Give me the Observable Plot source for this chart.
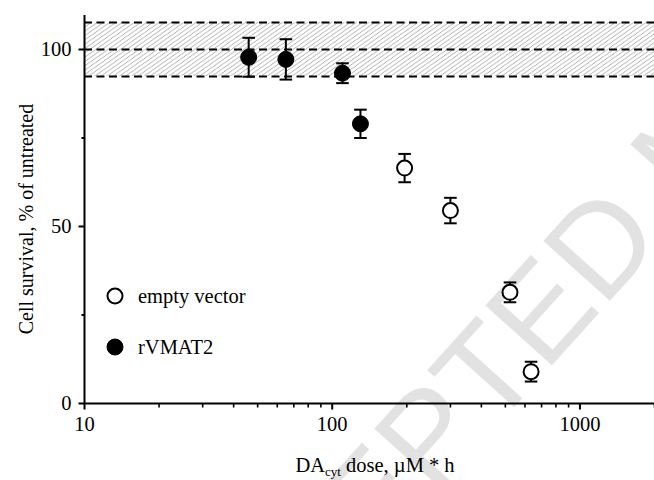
<!DOCTYPE html>
<html>
<head>
<meta charset="utf-8">
<script src="https://cdn.jsdelivr.net/npm/d3@7"></script>
<script src="https://cdn.jsdelivr.net/npm/@observablehq/plot@0.6"></script>
<style>
  html, body { margin: 0; padding: 0; background: white; }
  #chart svg { display: block; }
  #chart svg text { font-family: "Liberation Serif", "Times New Roman", serif; }
  #chart svg text.wm { font-family: "Liberation Sans", Arial, sans-serif; }
</style>
</head>
<body>
<div id="chart"></div>
<script>
// ---- data ----
const groups   = ["rVMAT2", "rVMAT2", "rVMAT2", "rVMAT2", "empty vector", "empty vector", "empty vector", "empty vector"];
const doses    = [46, 65, 110, 130, 196, 300, 522, 635];          // DA_cyt dose, µM*h
const survival = [97.8, 97.2, 93.3, 79.0, 66.5, 54.5, 31.4, 9.0]; // % of untreated
const errors   = [5.5, 5.7, 2.8, 4.0, 4.0, 3.6, 2.8, 2.8];
const controlLevel = [100];
const controlBand  = [92.4, 107.6];
const xMajorTicks = [10, 100, 1000];
const xMinorTicks = [20, 30, 40, 50, 60, 70, 80, 90, 200, 300, 400, 500, 600, 700, 800, 900, 2000];
const yMajorTicks = [0, 50, 100];
const yMinorTicks = [25, 75];
const legendLabels = ["empty vector", "rVMAT2"];
const xTitle = ["DA", "cyt", " dose, µM * h"];
const yTitle = "Cell survival, % of untreated";
const watermark = "ACCEPTED MANUSCRIPT";

const xDomain = [10, 2000];
const data = doses.map((d, i) => ({dose: d, mean: survival[i], err: errors[i], group: groups[i]}));
const band = [{x1: xDomain[0], x2: xDomain[1], lo: controlBand[0], hi: controlBand[1]}];

// custom symbols: horizontal cap, left tick, down tick
const hLine = {draw(c, size) { const w = Math.sqrt(size / Math.PI); c.moveTo(-w, 0); c.lineTo(w, 0); }};
const leftTick = {draw(c, size) { const w = Math.sqrt(size / Math.PI); c.moveTo(-w, 0); c.lineTo(0, 0); }};
const downTick = {draw(c, size) { const w = Math.sqrt(size / Math.PI); c.moveTo(0, 0); c.lineTo(0, w); }};

const chart = Plot.plot({
  width: 654,
  height: 480,
  marginLeft: 84,
  marginRight: 0,
  marginTop: 15,
  marginBottom: 77,
  x: {type: "log", domain: xDomain, axis: null},
  y: {domain: [0, 109.6], axis: null},
  style: {fontFamily: "'Liberation Serif', 'Times New Roman', serif", fontSize: "20px", color: "black", background: "white"},
  marks: [
    Plot.rect(band, {x1: "x1", x2: "x2", y1: "lo", y2: "hi", fill: "#e5e5e5"}),
    Plot.ruleY([...controlBand, ...controlLevel], {stroke: "black", strokeWidth: 2, strokeDasharray: "8,4.5"}),
    // y axis ticks and labels
    Plot.dot(yMajorTicks, {y: d => d, frameAnchor: "left", symbol: leftTick, r: 6, stroke: "black", strokeWidth: 2}),
    Plot.dot(yMinorTicks, {y: d => d, frameAnchor: "left", symbol: leftTick, r: 3, stroke: "black", strokeWidth: 2}),
    Plot.text(yMajorTicks, {y: d => d, frameAnchor: "left", text: d => String(d), dx: -13, textAnchor: "end", fontSize: 20.5}),
    // x axis ticks and labels
    Plot.dot(xMajorTicks, {x: d => d, frameAnchor: "bottom", symbol: downTick, r: 6, stroke: "black", strokeWidth: 2}),
    Plot.dot(xMinorTicks, {x: d => d, frameAnchor: "bottom", symbol: downTick, r: 4, stroke: "black", strokeWidth: 1.6}),
    Plot.text(xMajorTicks, {x: d => d, frameAnchor: "bottom", text: d => String(d), dy: 27, fontSize: 20.5}),
    // axis lines
    Plot.ruleY([0], {stroke: "black", strokeWidth: 2}),
    Plot.ruleX([xDomain[0]], {stroke: "black", strokeWidth: 2}),
    // error bars
    Plot.ruleX(data, {x: "dose", y1: d => d.mean - d.err, y2: d => d.mean + d.err, stroke: "black", strokeWidth: 2}),
    Plot.dot(data, {x: "dose", y: d => d.mean + d.err, symbol: hLine, r: 6.3, stroke: "black", strokeWidth: 2}),
    Plot.dot(data, {x: "dose", y: d => d.mean - d.err, symbol: hLine, r: 6.3, stroke: "black", strokeWidth: 2}),
    // points
    Plot.dot(data, {filter: d => d.group === "empty vector", x: "dose", y: "mean", r: 7.5, fill: "white", stroke: "black", strokeWidth: 2}),
    Plot.dot(data, {filter: d => d.group === "rVMAT2", x: "dose", y: "mean", r: 8, fill: "black", stroke: "black", strokeWidth: 1})
  ]
});

const svg = d3.select(chart);
chart.style.fontFamily = "'Liberation Serif', 'Times New Roman', serif";

// hatch pattern for the control band
const defs = svg.insert("defs", ":first-child");
const pat = defs.append("pattern")
  .attr("id", "hatch").attr("patternUnits", "userSpaceOnUse")
  .attr("width", 5).attr("height", 5)
  .attr("patternTransform", "rotate(10)");
pat.append("rect").attr("width", 5).attr("height", 5).attr("fill", "white");
pat.append("path").attr("d", "M-1,1 L1,-1 M0,5 L5,0 M4,6 L6,4").attr("stroke", "#a6a6a6").attr("stroke-width", 1);
svg.selectAll("rect").filter(function() { return this.getAttribute("fill") === "#e5e5e5" || (this.parentNode && this.parentNode.getAttribute("fill") === "#e5e5e5"); })
  .attr("fill", "url(#hatch)");
svg.selectAll("g").filter(function() { return this.getAttribute("fill") === "#e5e5e5"; }).attr("fill", "url(#hatch)");

// watermark (behind everything)
svg.insert("text", "defs + *")
  .attr("class", "wm")
  .attr("text-anchor", "start")
  .attr("transform", "translate(192,765) rotate(-48)")
  .attr("font-size", 130)
  .attr("fill", "#e2e2e2")
  .text(watermark);

// legend
const leg = svg.append("g").attr("font-size", 20.5).attr("text-anchor", "start");
[[296, "white"], [347, "black"]].forEach(([yy, fill], i) => {
  leg.append("circle").attr("cx", 115).attr("cy", yy).attr("r", fill === "white" ? 7.5 : 8)
    .attr("fill", fill).attr("stroke", "black").attr("stroke-width", fill === "white" ? 2 : 1);
  leg.append("text").attr("x", 138).attr("y", yy + 7).text(legendLabels[i]);
});

// x title with subscript
const xt = svg.append("text").attr("x", 375).attr("y", 472).attr("text-anchor", "middle").attr("font-size", 20.5);
xt.append("tspan").text(xTitle[0]);
xt.append("tspan").attr("font-size", 13).attr("dy", 4).text(xTitle[1]);
xt.append("tspan").attr("dy", -4).text(xTitle[2]);

// y title
svg.append("text").attr("transform", "translate(33,219) rotate(-90)").attr("text-anchor", "middle")
  .attr("font-size", 20).text(yTitle);

document.getElementById("chart").appendChild(chart);
</script>
</body>
</html>
